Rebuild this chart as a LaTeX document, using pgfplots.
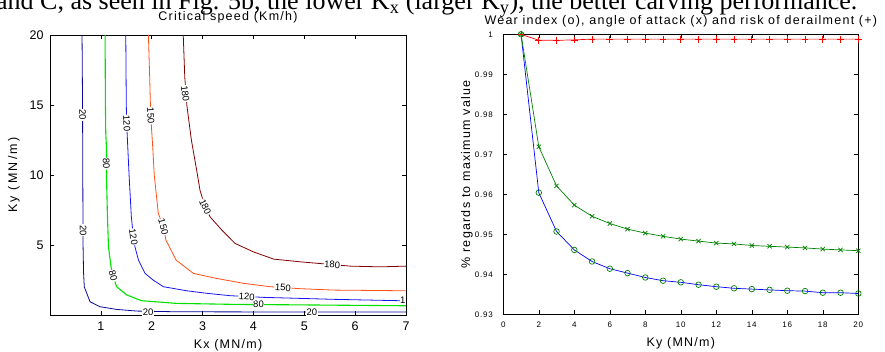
\documentclass[border=0pt]{standalone}
\usepackage{pgfplots}
\pgfplotsset{compat=1.18}
\usepackage{fontspec}
\setmainfont{Liberation Sans}
\newfontfamily\spc[LetterSpace=10]{Liberation Sans}
\newfontfamily\spcb[LetterSpace=18]{Liberation Sans}
\newfontfamily\serif{Liberation Serif}
\definecolor{cnavy}{RGB}{10,10,150}
\definecolor{cgreen}{RGB}{0,225,0}
\definecolor{cblue}{RGB}{20,20,245}
\definecolor{corange}{RGB}{255,80,20}
\definecolor{cdred}{RGB}{130,0,0}
\definecolor{mgreen}{RGB}{0,128,0}
\tikzset{lbl/.style={font=\fontsize{9.5}{10}\selectfont, fill=white, inner sep=0.6pt}}
\begin{document}
\begin{tikzpicture}
\useasboundingbox (0,0) rectangle (885pt,351pt);
\clip (0,0) rectangle (885pt,351pt);
\node[anchor=base west, inner sep=0pt, font=\serif\fontsize{26}{28}\selectfont] at (-4pt,341pt)
  {and C, as seen in Fig. 5b, the lower K\textsubscript{x} (larger K\textsubscript{y}), the better carving performance.};
% ---------------- left: contour ----------------
\begin{axis}[at={(50pt,36pt)}, anchor=south west, scale only axis,
  width=356pt, height=280pt,
  xmin=0, xmax=7, ymin=0, ymax=20,
  xtick={1,2,3,4,5,6,7}, ytick={5,10,15,20},
  tick align=inside, major tick length=4pt,
  axis line style={line width=0.9pt},
  every tick/.style={black, line width=0.6pt},
  /pgf/number format/assume math mode=true,
  tick label style={font=\fontsize{12.5}{14}\selectfont},
  xticklabel style={yshift=-3pt},
  yticklabel style={xshift=-3pt},
  every axis x label/.style={at={(rel axis cs:0.5,0)}, anchor=base, yshift=-33.5pt, font=\spc\fontsize{12.5}{14}\selectfont},
  every axis y label/.style={at={([xshift=-36pt]rel axis cs:0,0.5)}, anchor=center, rotate=90, font=\spcb\fontsize{12.5}{14}\selectfont},
  xlabel={Kx (MN/m)}, ylabel={Ky (MN/m)},
  clip=false
]
\addplot[cnavy, line width=0.8pt] coordinates {
(0.63,20) (0.64,15) (0.645,10) (0.65,5) (0.66,3) (0.675,2.0) (0.787,0.95) (0.984,0.59) (1.31,0.40) (1.71,0.28) (2.5,0.23) (4,0.22) (5.5,0.21) (7,0.21)};
\addplot[cgreen, line width=1.1pt] coordinates {
(1.083,20) (1.09,15) (1.096,13) (1.11,12) (1.11,10) (1.13,7) (1.15,4.87) (1.20,3.44) (1.24,2.8) (1.31,2.02) (1.51,1.43) (1.80,1.02) (2.49,0.83) (3.6,0.76) (5,0.72) (7,0.66)};
\addplot[cblue, line width=0.8pt] coordinates {
(1.49,20) (1.50,15) (1.51,13.5) (1.555,10) (1.60,7) (1.64,5.58) (1.67,4.87) (1.74,3.92) (1.87,2.97) (2.03,2.49) (2.23,2.02) (2.69,1.73) (3.08,1.55) (3.54,1.38) (4.2,1.26) (5.57,1.12) (6.89,1.02) (7,1.01)};
\addplot[corange, line width=0.8pt] coordinates {
(1.935,20) (1.96,17) (1.98,14.25) (2.02,12) (2.05,10) (2.13,7.25) (2.23,6.3) (2.28,5.35) (2.48,3.92) (2.82,2.97) (3.28,2.61) (3.81,2.26) (4.33,2.02) (4.92,1.88) (5.57,1.78) (7,1.73)};
\addplot[cdred, line width=0.8pt] coordinates {
(2.62,20) (2.65,17) (2.69,15) (2.78,12.5) (2.90,10) (2.95,8.9) (3.05,7.72) (3.15,7.0) (3.38,6.06) (3.64,5.11) (4.0,4.51) (4.40,3.99) (4.92,3.80) (5.55,3.6) (5.91,3.49) (6.5,3.44) (7,3.49)};
% labels
\node[lbl, rotate=-90] at (0.64,14.3) {20};
\node[lbl, rotate=-90] at (0.65,6.05) {20};
\node[lbl] at (1.93,0.22) {20};
\node[lbl] at (5.15,0.21) {20};
\node[lbl, rotate=-88] at (1.11,10.8) {80};
\node[lbl, rotate=-75] at (1.24,2.8) {80};
\node[lbl] at (4.1,0.74) {80};
\node[lbl, rotate=-87] at (1.51,13.7) {120};
\node[lbl, rotate=-80] at (1.64,5.58) {120};
\node[lbl, rotate=-4] at (3.87,1.31) {120};
\node[lbl, anchor=east, inner sep=0.3pt] at (7,1.08) {1};
\node[lbl, rotate=-87] at (1.98,14.25) {150};
\node[lbl, rotate=-75] at (2.23,6.3) {150};
\node[lbl, rotate=-3] at (4.58,1.95) {150};
\node[lbl, rotate=-82] at (2.66,15.8) {180};
\node[lbl, rotate=-65] at (3.05,7.72) {180};
\node[lbl, rotate=-3] at (5.55,3.6) {180};
\node[anchor=base, font=\spc\fontsize{12.5}{14}\selectfont] at (rel axis cs:0.5,1) [yshift=14.7pt] {Critical speed (Km/h)};
\end{axis}
% ---------------- right: lines ----------------
\begin{axis}[at={(503.3pt,36.7pt)}, anchor=south west, scale only axis,
  width=355pt, height=280pt,
  xmin=0, xmax=20, ymin=0.93, ymax=1,
  xtick={0,2,4,6,8,10,12,14,16,18,20},
  ytick={0.93,0.94,0.95,0.96,0.97,0.98,0.99,1},
  yticklabels={0.93,0.94,0.95,0.96,0.97,0.98,0.99,1},
  tick align=inside, major tick length=4pt,
  axis line style={line width=0.9pt},
  every tick/.style={black, line width=0.6pt},
  /pgf/number format/assume math mode=true,
  tick label style={font=\spc\fontsize{8}{9}\selectfont},
  xticklabel style={yshift=-4pt},
  yticklabel style={xshift=-7pt},
  every axis x label/.style={at={(rel axis cs:0.5,0)}, anchor=base, yshift=-31.7pt, font=\spc\fontsize{12.5}{14}\selectfont},
  every axis y label/.style={at={([xshift=-36.3pt]rel axis cs:0,0.5)}, anchor=center, rotate=90, font=\spc\fontsize{12.5}{14}\selectfont},
  xlabel={Ky (MN/m)}, ylabel={\% regards to maximum value},
  clip=false
]
\addplot[blue, line width=0.7pt, mark=o, mark size=2.8pt, mark options={draw=mgreen, line width=0.7pt}] coordinates {
(1,1.0) (2,0.9604) (3,0.9507) (4,0.9461) (5,0.9432) (6,0.9414) (7,0.9403) (8,0.9392) (9,0.9384) (10,0.9380)
(11,0.9374) (12,0.9369) (13,0.9365) (14,0.9363) (15,0.9361) (16,0.9359) (17,0.9358) (18,0.9354) (19,0.9354) (20,0.9352)};
\addplot[mgreen, line width=0.7pt, mark=x, mark size=3pt, mark options={line width=0.7pt}] coordinates {
(1,1.0) (2,0.9719) (3,0.9621) (4,0.9573) (5,0.9545) (6,0.9527) (7,0.9513) (8,0.9503) (9,0.9495) (10,0.9488)
(11,0.9483) (12,0.9478) (13,0.9476) (14,0.9472) (15,0.9470) (16,0.9468) (17,0.9466) (18,0.9463) (19,0.9461) (20,0.9459)};
\addplot[red, line width=0.7pt, mark=+, mark size=3.4pt, mark options={line width=0.7pt}] coordinates {
(1,1.0) (2,0.9985) (3,0.9985) (4,0.9986) (5,0.9988) (6,0.9988) (7,0.9988) (8,0.9988) (9,0.9988) (10,0.9988)
(11,0.9988) (12,0.9988) (13,0.9988) (14,0.9988) (15,0.9988) (16,0.9988) (17,0.9988) (18,0.9988) (19,0.9988) (20,0.9988)};
\node[anchor=base, font=\spc\fontsize{12.5}{14}\selectfont] at (rel axis cs:0.5,1) [yshift=10.3pt] {Wear index (o), angle of attack (x) and risk of derailment (+)};
\end{axis}
\end{tikzpicture}
\end{document}
